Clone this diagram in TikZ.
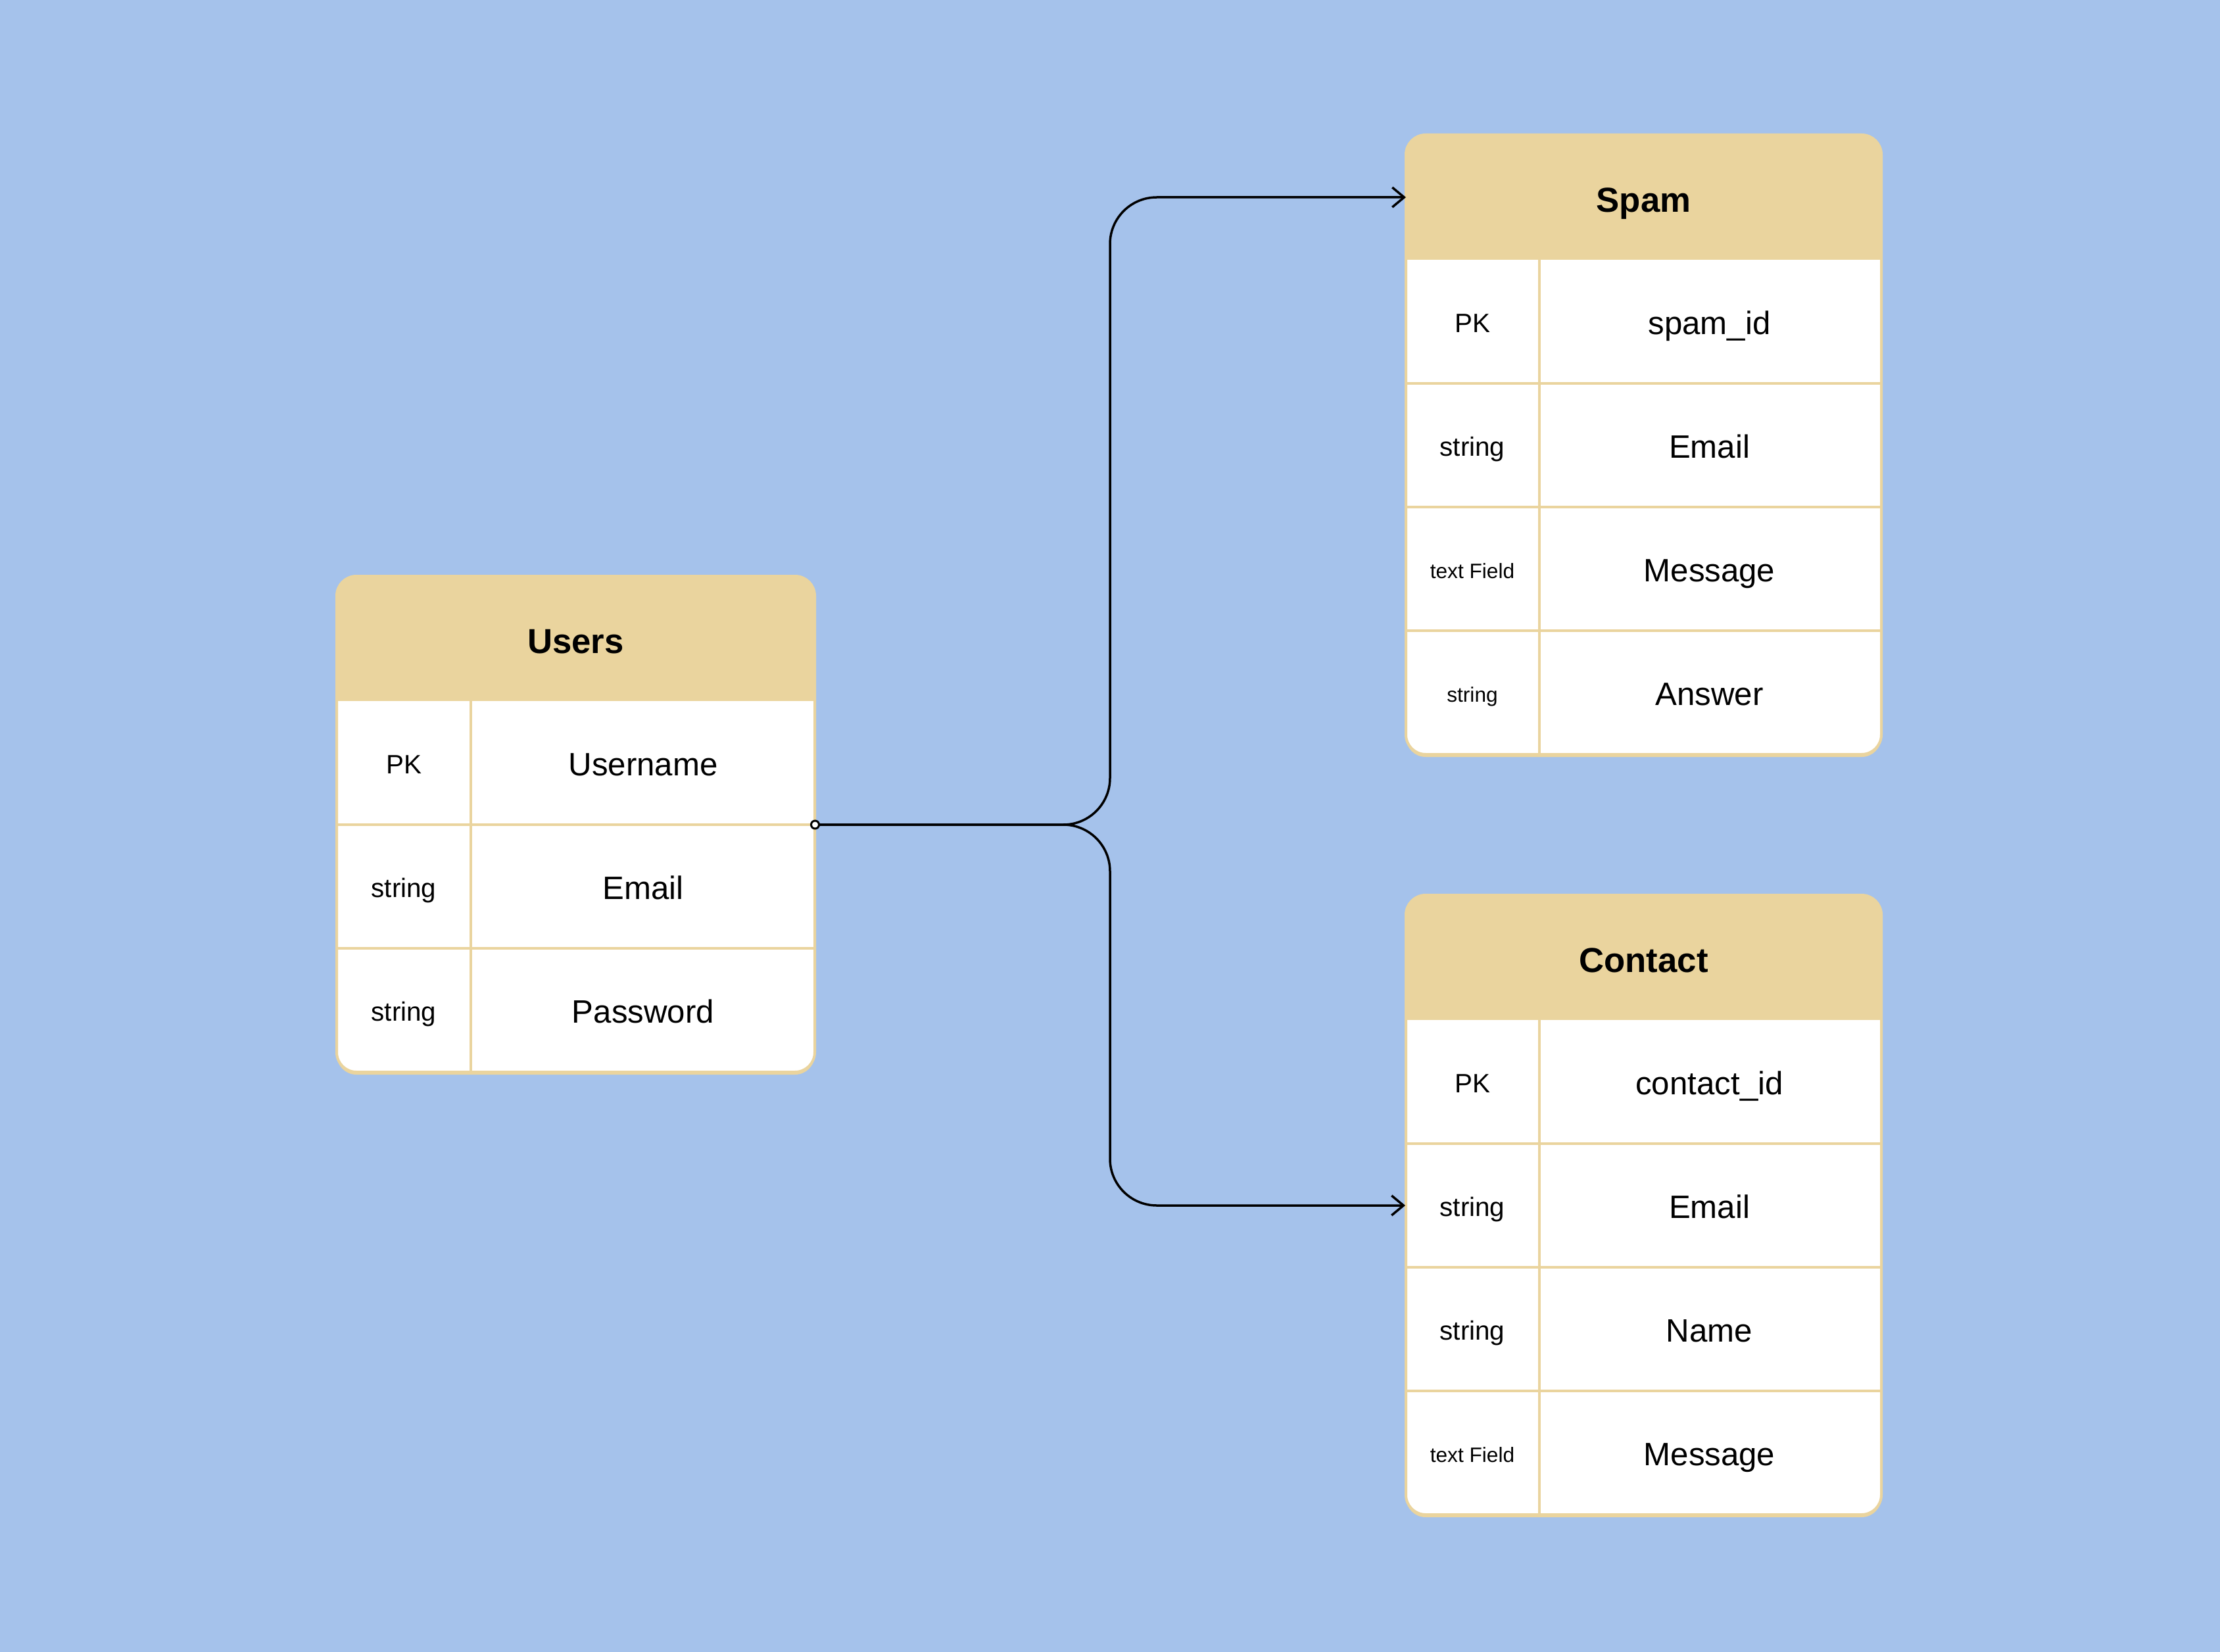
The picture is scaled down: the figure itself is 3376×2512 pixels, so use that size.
\documentclass[tikz,border=0pt]{standalone}
\usepackage{fontspec}
\setmainfont{Liberation Sans}
\usetikzlibrary{arrows.meta}
\definecolor{bgblue}{HTML}{A5C2EB}
\definecolor{hdtan}{HTML}{EAD49E}
\begin{document}
\begin{tikzpicture}[x=0.1mm,y=-0.1mm,
		title/.style={minimum width=72.7mm,minimum height=19mm,inner sep=0pt,outer sep=0pt,
			font=\bfseries\fontsize{15}{18}\selectfont,text height=12.8pt,text depth=0pt},
		typ/.style={minimum width=20.4mm,minimum height=18.8mm,inner sep=0pt,outer sep=0pt,
			font=\fontsize{11.5}{14}\selectfont,text height=9.6pt,text depth=0pt},
		typs/.style={typ,font=\fontsize{9}{11}\selectfont,text height=8.1pt},
		fld/.style={minimum width=52.3mm,minimum height=18.8mm,inner sep=0pt,outer sep=0pt,
			font=\fontsize{14}{17}\selectfont,text height=11.2pt,text depth=0pt},
		grid/.style={draw=hdtan,line width=0.4mm},
		conn/.style={line width=0.35mm,rounded corners=7.1mm,-{Straight Barb[length=1.8mm,width=3mm]}}]
	\fill[bgblue](0,0)rectangle(3376,2512);
	% Users
	\fill[hdtan,rounded corners=3mm](512,880)rectangle(1239,1634);
	\begin{scope}
		\clip[rounded corners=3mm](512,876)rectangle(1239,1630);
		\fill[hdtan](512,876)rectangle(1239,1066);
		\fill[white](512,1066)rectangle(1239,1630);
	\end{scope}
	\node[title,anchor=north west](users)at(512,876){Users};
	\foreach \st/\ty/\fd [count=\i] in {typ/PK/Username,typ/string/Email,typ/string/Password}{
		\node[\st](users-t\i)at(614,{1160+(\i-1)*188}){\ty};
		\node[fld](users-f\i)at(978,{1160+(\i-1)*188}){\fd};
	}
	\draw[grid](users-t1.north east)--(users-t3.south east);
	\foreach \i in {1,2}\draw[grid](users-t\i.south west)--(users-f\i.south east);
	\draw[grid,rounded corners=3mm](512,876)rectangle(1239,1630);
	% Spam
	\fill[hdtan,rounded corners=3mm](2138,209)rectangle(2861,1151);
	\begin{scope}
		\clip[rounded corners=3mm](2138,205)rectangle(2861,1147);
		\fill[hdtan](2138,205)rectangle(2861,395);
		\fill[white](2138,395)rectangle(2861,1147);
	\end{scope}
	\node[title,anchor=north west,minimum width=72.3mm](spam)at(2138,205){Spam};
	\foreach \st/\ty/\fd [count=\i] in {typ/PK/spam\_id,typ/string/Email,typs/text Field/Message,typs/string/Answer}{
		\node[\st](spam-t\i)at(2239,{489+(\i-1)*188}){\ty};
		\node[fld](spam-f\i)at(2599.5,{489+(\i-1)*188}){\fd};
	}
	\draw[grid](spam-t1.north east)--(spam-t4.south east);
	\foreach \i in {1,2,3}\draw[grid](spam-t\i.south west)--(spam-f\i.south east);
	\draw[grid,rounded corners=3mm](2138,205)rectangle(2861,1147);
	% Contact
	\fill[hdtan,rounded corners=3mm](2138,1365)rectangle(2861,2307);
	\begin{scope}
		\clip[rounded corners=3mm](2138,1361)rectangle(2861,2303);
		\fill[hdtan](2138,1361)rectangle(2861,1551);
		\fill[white](2138,1551)rectangle(2861,2303);
	\end{scope}
	\node[title,anchor=north west,minimum width=72.3mm](contact)at(2138,1361){Contact};
	\foreach \st/\ty/\fd [count=\i] in {typ/PK/contact\_id,typ/string/Email,typ/string/Name,typs/text Field/Message}{
		\node[\st](contact-t\i)at(2239,{1645+(\i-1)*188}){\ty};
		\node[fld](contact-f\i)at(2599.5,{1645+(\i-1)*188}){\fd};
	}
	\draw[grid](contact-t1.north east)--(contact-t4.south east);
	\foreach \i in {1,2,3}\draw[grid](contact-t\i.south west)--(contact-f\i.south east);
	\draw[grid,rounded corners=3mm](2138,1361)rectangle(2861,2303);
	% links
	\coordinate(fork)at(1688,1254);
	\draw[conn](users-f1.south east)--(fork)|-(spam.west);
	\draw[conn](users-f1.south east)--(fork)|-(contact-t2.west);
	\draw[line width=0.3mm,fill=white](users-f1.south east)circle(0.6mm);
\end{tikzpicture}
\end{document}
